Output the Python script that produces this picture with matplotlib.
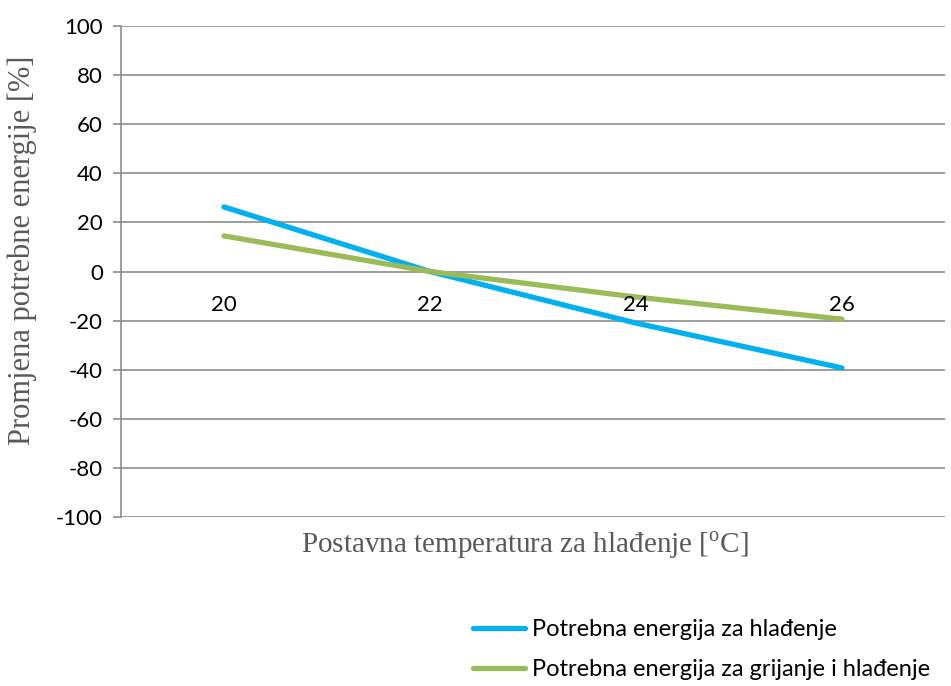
import matplotlib.pyplot as plt

temps = ["20", "22", "24", "26"]
cooling = [26.3, 0.0, -21.0, -39.3]
heat_cool = [14.5, 0.0, -10.4, -19.4]
yticks = [-100, -80, -60, -40, -20, 0, 20, 40, 60, 80, 100]

GRID = "#8c8c8c"
fig = plt.figure(figsize=(9.51, 6.86), dpi=100)
ax = fig.add_axes([121/951, 1 - 517/686, (945-121)/951, (517-26)/686])

x = range(len(temps))
l1, = ax.plot(x, cooling, color="#00B0F0", lw=3.8, solid_capstyle="round",
              label="Potrebna energija za hlađenje")
l2, = ax.plot(x, heat_cool, color="#9BBB59", lw=3.8, solid_capstyle="round",
              label="Potrebna energija za grijanje i hlađenje")

ax.set_xlim(-0.5, len(temps) - 0.5)
ax.set_ylim(-100, 100)
ax.set_yticks(yticks)
ax.set_yticklabels([str(v) for v in yticks], fontsize=16, family="Lato")
ax.set_xticks([])
ax.grid(axis="y", color=GRID, lw=1.2)
ax.set_axisbelow(True)
for s in ["top", "right", "bottom"]:
    ax.spines[s].set_visible(False)
ax.spines["left"].set_color(GRID)
ax.spines["left"].set_linewidth(1.2)
ax.tick_params(axis="y", color=GRID, length=6, width=1.2, pad=7)

# category labels sit next to the zero line
for i, t in enumerate(temps):
    ax.annotate(t, (i, 0), xytext=(0, -24), textcoords="offset points",
                ha="center", va="center", fontsize=16, family="Lato")

fig.text(22/951, 1 - 250/686, "Promjena potrebne energije [%]", rotation=90,
         family="Liberation Serif", fontsize=22, color="#595959",
         ha="center", va="center")
fig.text(525/951, 1 - 545/686,
         "Postavna temperatura za hlađenje [$^{\\mathregular{o}}$C]",
         family="Liberation Serif", fontsize=21, color="#595959",
         ha="center", va="center")

fig.legend(handles=[l1, l2], loc="lower left", bbox_to_anchor=(452/951, -0.022),
           frameon=False, prop={"family": "Lato", "size": 17},
           handlelength=2.2, handletextpad=0.3, labelspacing=0.8)

fig.savefig("out.png", dpi=100)
